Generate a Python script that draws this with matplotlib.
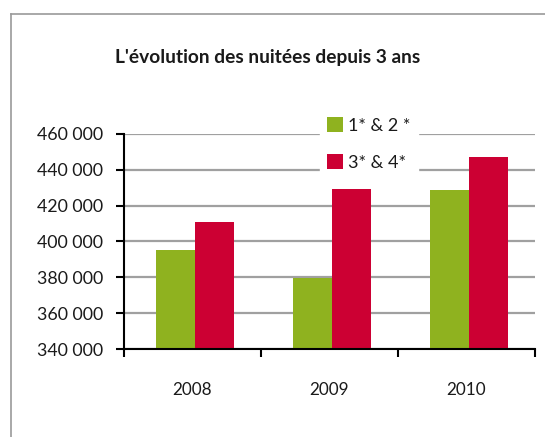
import matplotlib
matplotlib.use("Agg")
import matplotlib.pyplot as plt
from matplotlib.lines import Line2D
import numpy as np

years = ["2008", "2009", "2010"]
series_names = ["1* & 2 *", "3* & 4*"]
vals_12 = [395300, 379800, 428900]
vals_34 = [411000, 429400, 447300]
yticks = [340000, 360000, 380000, 400000, 420000, 440000, 460000]
ytick_labels = ["340 000", "360 000", "380 000", "400 000", "420 000", "440 000", "460 000"]
title = "L'évolution des nuitées depuis 3 ans"

plt.rcParams['font.family'] = ['Lato', 'DejaVu Sans']
W, H = 545, 437
fig = plt.figure(figsize=(W / 100, H / 100), dpi=100)

# outer frame (left and top only visible)
fig.add_artist(Line2D([10.5 / W, 10.5 / W], [0, 1 - 14 / H], transform=fig.transFigure, color="#9a9a9a", lw=1.2))
fig.add_artist(Line2D([10.5 / W, 1], [1 - 14 / H, 1 - 14 / H], transform=fig.transFigure, color="#9a9a9a", lw=1.2))

ax = fig.add_axes([124 / W, 1 - 349 / H, (535 - 124) / W, (349 - 134) / H])
x = np.arange(len(years))
bw = 0.285
green = "#8FB21F"
red = "#CC0033"
ax.bar(x - bw / 2 + 0.015, vals_12, width=bw, color=green, label=series_names[0], zorder=3)
ax.bar(x + bw / 2 + 0.015, vals_34, width=bw, color=red, label=series_names[1], zorder=3)

ax.set_ylim(340000, 460000)
ax.set_xlim(-0.5, len(years) - 0.5)
ax.set_yticks(yticks)
ax.set_yticklabels(ytick_labels)
ax.yaxis.grid(True, color="#a0a0a0", lw=1.6, zorder=0)
ax.set_axisbelow(True)

ax.set_xticks(np.arange(len(years) + 1) - 0.5)
ax.set_xticklabels([])
ax.set_xticks(x, minor=True)
ax.set_xticklabels(years, minor=True)
ax.tick_params(axis='x', which='major', direction='out', length=6, width=1.5, color='black')
ax.tick_params(axis='x', which='minor', length=0, pad=24, labelsize=12.3, labelcolor="#1a1a1a")
ax.tick_params(axis='y', direction='out', length=6, width=1.5, pad=9, labelsize=12.8, labelcolor="#1a1a1a")

for s in ["top", "right"]:
    ax.spines[s].set_visible(False)
for s in ["left", "bottom"]:
    ax.spines[s].set_linewidth(1.5)
    ax.spines[s].set_color("black")
    ax.spines[s].set_zorder(4)

fig.text(268 / W, 1 - 57 / H, title, ha="center", va="center", fontsize=13.8, fontweight="bold", color="#1a1a1a")

leg = ax.legend(loc="upper left", bbox_to_anchor=(320 / W, 1 - 110 / H), bbox_transform=fig.transFigure,
                frameon=True, fancybox=False, framealpha=1, edgecolor="white", facecolor="white",
                fontsize=13, handlelength=0.85, handleheight=0.85, handletextpad=0.3,
                labelspacing=1.15, borderpad=0.4, borderaxespad=0)
for t in leg.get_texts():
    t.set_color("#1a1a1a")
leg.set_zorder(5)

fig.savefig("out.png", dpi=100)
